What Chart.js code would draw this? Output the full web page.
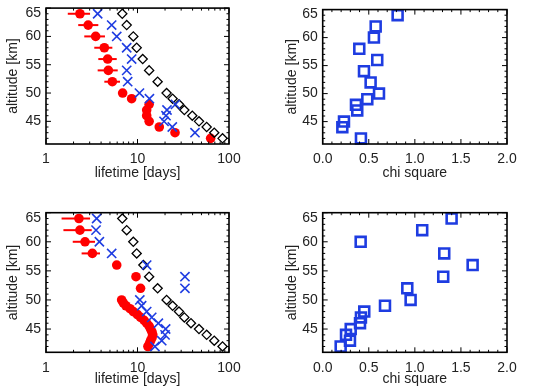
<!DOCTYPE html>
<html>
<head>
<meta charset="utf-8">
<script src="https://cdn.jsdelivr.net/npm/chart.js@4.4.1/dist/chart.umd.min.js"></script>
<style>
  body { margin: 0; background: #fff; }
  #wrap { position: relative; width: 536px; height: 389px; }
  canvas { position: absolute; }
</style>
</head>
<body>
<div id="wrap">
  <canvas id="c1" width="268" height="195" style="left:0;top:0"></canvas>
  <canvas id="c2" width="268" height="195" style="left:268px;top:0"></canvas>
  <canvas id="c3" width="268" height="194" style="left:0;top:195px"></canvas>
  <canvas id="c4" width="268" height="194" style="left:268px;top:195px"></canvas>
</div>
<script>
// tick labels
const altTicks = [45, 50, 55, 60, 65];
const lifeTicks = [1, 10, 100];
const chiTicks = [0, 0.5, 1, 1.5, 2];

// altitude grid shared by most series [km]
const alts = [64, 62, 60, 58, 56, 54, 52, 50, 49, 48, 47, 46, 45, 44, 43, 42];

// top row: lifetime [days]
const redTop   = [2.35, 2.89, 3.49, 4.34, 4.72, 4.80, 5.31, 6.88, 8.63, 13.4, 12.6, 12.6, 13.4, 17.3, 25.7, 63];
const redTopLo = [1.73, 2.25, 2.62, 3.37, 3.73, 3.67, 4.34, null, null, null, null, null, null, null, null, null];
const redTopHi = [3.03, 3.73, 4.41, 5.31, 5.93, 6.08, 6.44, null, null, null, null, null, null, null, null, null];
const blueTop  = [3.67, 5.22, 5.93, 7.62, 8.63, 7.62, 7.81, 10.5, 13.5, 26, 21, 20.5, 19.5, 24, 42.5, null];
const diamTop  = [6.82, 7.62, 9.0, 9.8, 11.4, 13.4, 16.6, 20.8, 24.2, 28.4, 32.5, 39.7, 47, 57, 69, 85];
const chiTop   = [0.813, 0.575, 0.556, 0.397, 0.592, 0.448, 0.520, 0.611, 0.484, 0.361, 0.375, null, 0.231, 0.213, null, 0.415];

// bottom row
const redBotAlt = [64, 62, 60, 58, 56, 54, 52, 50, 49.5, 49, 48.5, 48, 47.5, 47, 46.5, 46, 45.5, 45, 44.5, 44, 43.5, 43, 42.5, 42];
const redBot    = [2.29, 2.35, 2.67, 3.21, 5.93, 9.63, 10.8, 6.71, 7.0, 7.48, 8.28, 9.0, 9.96, 10.8, 11.8, 12.6, 13.4, 13.9, 14.4, 14.7, 14.4, 13.9, 13.5, 13.0];
const redBotLo  = [1.48, 1.55, 1.96, 2.45];
const redBotHi  = [3.03, 3.16, 3.43, 3.89];
const blueBot   = [3.58, 3.52, 3.83, 5.22, 12.6, 33, 33, 10.6, 11.1, 12.6, 14.3, 16.9, 20.3, 20, 18.4, 15.5];
const diamBot   = [6.82, 7.62, 9.0, 9.8, 11.6, 13.4, 16.6, 20.8, 24.2, 28.4, 32.5, 38.4, 47, 57, 69, 85];
const chiBot    = [1.399, 1.080, 0.412, 1.319, 1.627, 1.308, 0.918, 0.954, 0.676, 0.451, 0.415, 0.405, 0.304, 0.253, 0.296, 0.195];

const FONT = "'Liberation Sans', Arial, Helvetica, sans-serif";
const RED = 'rgb(255,0,0)';
const BLUE = 'rgb(30,60,225)';

function pts(xs, ys, lo, hi) {
  const out = [];
  xs.forEach(function(v, i) {
    if (v == null) return;
    const p = { x: v, y: ys[i] };
    if (lo && lo[i] != null) { p.lo = lo[i]; p.hi = hi[i]; }
    out.push(p);
  });
  return out;
}

// box with inward ticks on all four sides, like the original
const frame = {
  id: 'frame',
  afterDraw(chart) {
    const { ctx, chartArea: a, scales } = chart;
    const xs = scales.x, ys = scales.y;
    ctx.save();
    ctx.strokeStyle = '#000';
    ctx.lineWidth = 1.6;
    ctx.strokeRect(a.left, a.top, a.right - a.left, a.bottom - a.top);
    ctx.lineWidth = 1;
    const tickX = function(v, len) {
      const px = xs.getPixelForValue(v);
      ctx.beginPath();
      ctx.moveTo(px, a.bottom); ctx.lineTo(px, a.bottom - len);
      ctx.moveTo(px, a.top); ctx.lineTo(px, a.top + len);
      ctx.stroke();
    };
    const tickY = function(v, len) {
      const py = ys.getPixelForValue(v);
      ctx.beginPath();
      ctx.moveTo(a.left, py); ctx.lineTo(a.left + len, py);
      ctx.moveTo(a.right, py); ctx.lineTo(a.right - len, py);
      ctx.stroke();
    };
    xs.ticks.forEach(function(t) { tickX(t.value, 5); });
    if (xs.type === 'logarithmic') {
      [1, 10].forEach(function(d) {
        for (let m = 2; m <= 9; m++) tickX(d * m, 2.5);
      });
    } else {
      for (let k = 1; k < 20; k++) if (k % 5) tickX(k / 10, 2.5);
    }
    ys.ticks.forEach(function(t) { tickY(t.value, 5); });
    for (let k = 42; k < 65; k++) if (k % 5) tickY(k, 2.5);
    ctx.restore();
  }
};

// horizontal error bars behind the red circles
const errBars = {
  id: 'errBars',
  beforeDatasetsDraw(chart) {
    const { ctx, scales } = chart;
    ctx.save();
    ctx.strokeStyle = RED;
    ctx.lineWidth = 2;
    chart.data.datasets.forEach(function(ds) {
      ds.data.forEach(function(p) {
        if (p.lo == null) return;
        const py = scales.y.getPixelForValue(p.y);
        ctx.beginPath();
        ctx.moveTo(scales.x.getPixelForValue(p.lo), py);
        ctx.lineTo(scales.x.getPixelForValue(p.hi), py);
        ctx.stroke();
      });
    });
    ctx.restore();
  }
};

// the top "65" label sits a little below its tick in the original
const nudgeTop = {
  id: 'nudgeTop',
  afterUpdate(chart) {
    chart.scales.y.getLabelItems().forEach(function(it) {
      if (it.label === '65') {
        it.options.translation = [it.options.translation[0], it.options.translation[1] + 5];
      }
    });
  }
};

function makePanel(id, box, kind, datasets, titlePad) {
  const xScale = kind === 'life'
    ? { type: 'logarithmic', min: 1, max: 100, values: lifeTicks, label: 'lifetime [days]', fmt: function(v) { return String(v); } }
    : { type: 'linear', min: 0, max: 2, values: chiTicks, label: 'chi square', fmt: function(v) { return v.toFixed(1); } };
  return new Chart(document.getElementById(id), {
    type: 'scatter',
    data: { datasets },
    options: {
      responsive: false,
      animation: false,
      devicePixelRatio: 1,
      layout: { padding: { top: box.top, right: box.w - box.right, left: 0, bottom: 0 } },
      plugins: { legend: { display: false }, tooltip: { enabled: false } },
      scales: {
        x: {
          type: xScale.type,
          min: xScale.min,
          max: xScale.max,
          grid: { display: false, drawTicks: false },
          border: { display: false },
          afterBuildTicks(s) { s.ticks = xScale.values.map(function(v) { return { value: v }; }); },
          afterFit(s) { s.height = box.h - box.bottom; s.paddingLeft = 0; s.paddingRight = 0; },
          ticks: {
            callback: xScale.fmt, maxRotation: 0, autoSkip: false, padding: 7,
            color: '#222', font: { family: FONT, size: 14 }
          },
          title: {
            display: true, text: xScale.label, color: '#222',
            font: { family: FONT, size: 14 }, padding: { top: 0, bottom: titlePad.x }
          }
        },
        y: {
          type: 'linear',
          min: 41,
          max: 65,
          grid: { display: false, drawTicks: false },
          border: { display: false },
          afterBuildTicks(s) { s.ticks = altTicks.map(function(v) { return { value: v }; }); },
          afterFit(s) { s.width = box.left; s.paddingTop = 0; s.paddingBottom = 0; },
          ticks: {
            callback: function(v) { return String(v); }, autoSkip: false, padding: 5,
            color: '#222', font: { family: FONT, size: 14 }
          },
          title: {
            display: true, text: 'altitude [km]', color: '#222',
            font: { family: FONT, size: 14 }, padding: { top: titlePad.y, bottom: 0 }
          }
        }
      }
    },
    plugins: [frame, errBars, nudgeTop]
  });
}

function crosses(data) {
  return { data, pointStyle: 'crossRot', pointRadius: 6.5, borderColor: BLUE, borderWidth: 1.6, backgroundColor: BLUE, showLine: false, clip: false };
}
function diamonds(data) {
  return { data, pointStyle: 'rectRot', pointRadius: 4.6, borderColor: '#000', borderWidth: 1.3, backgroundColor: 'rgba(0,0,0,0)', showLine: false, clip: false };
}
function circles(data) {
  return { data, pointStyle: 'circle', pointRadius: 4.8, borderWidth: 0, backgroundColor: RED, borderColor: RED, showLine: false, clip: false };
}
function squares(data) {
  return { data, pointStyle: 'rect', pointRadius: 7, borderColor: BLUE, borderWidth: 2.6, backgroundColor: 'rgba(0,0,0,0)', showLine: false, clip: false };
}

makePanel('c1', { w: 268, h: 195, left: 46, right: 229, top: 5, bottom: 144 }, 'life', [
  crosses(pts(blueTop, alts)),
  diamonds(pts(diamTop, alts)),
  circles(pts(redTop, alts, redTopLo, redTopHi))
], { x: 13.5, y: 4.5 });

makePanel('c2', { w: 268, h: 195, left: 54.7, right: 239, top: 5, bottom: 144 }, 'chi', [
  squares(pts(chiTop, alts))
], { x: 13.5, y: 15.5 });

makePanel('c3', { w: 268, h: 194, left: 46, right: 229, top: 17.7, bottom: 157.3 }, 'life', [
  crosses(pts(blueBot, alts)),
  diamonds(pts(diamBot, alts)),
  circles(pts(redBot, redBotAlt, redBotLo, redBotHi))
], { x: 1.2, y: 4.5 });

makePanel('c4', { w: 268, h: 194, left: 54.7, right: 239, top: 17.7, bottom: 157.3 }, 'chi', [
  squares(pts(chiBot, alts))
], { x: 1.2, y: 15.5 });
</script>
</body>
</html>
